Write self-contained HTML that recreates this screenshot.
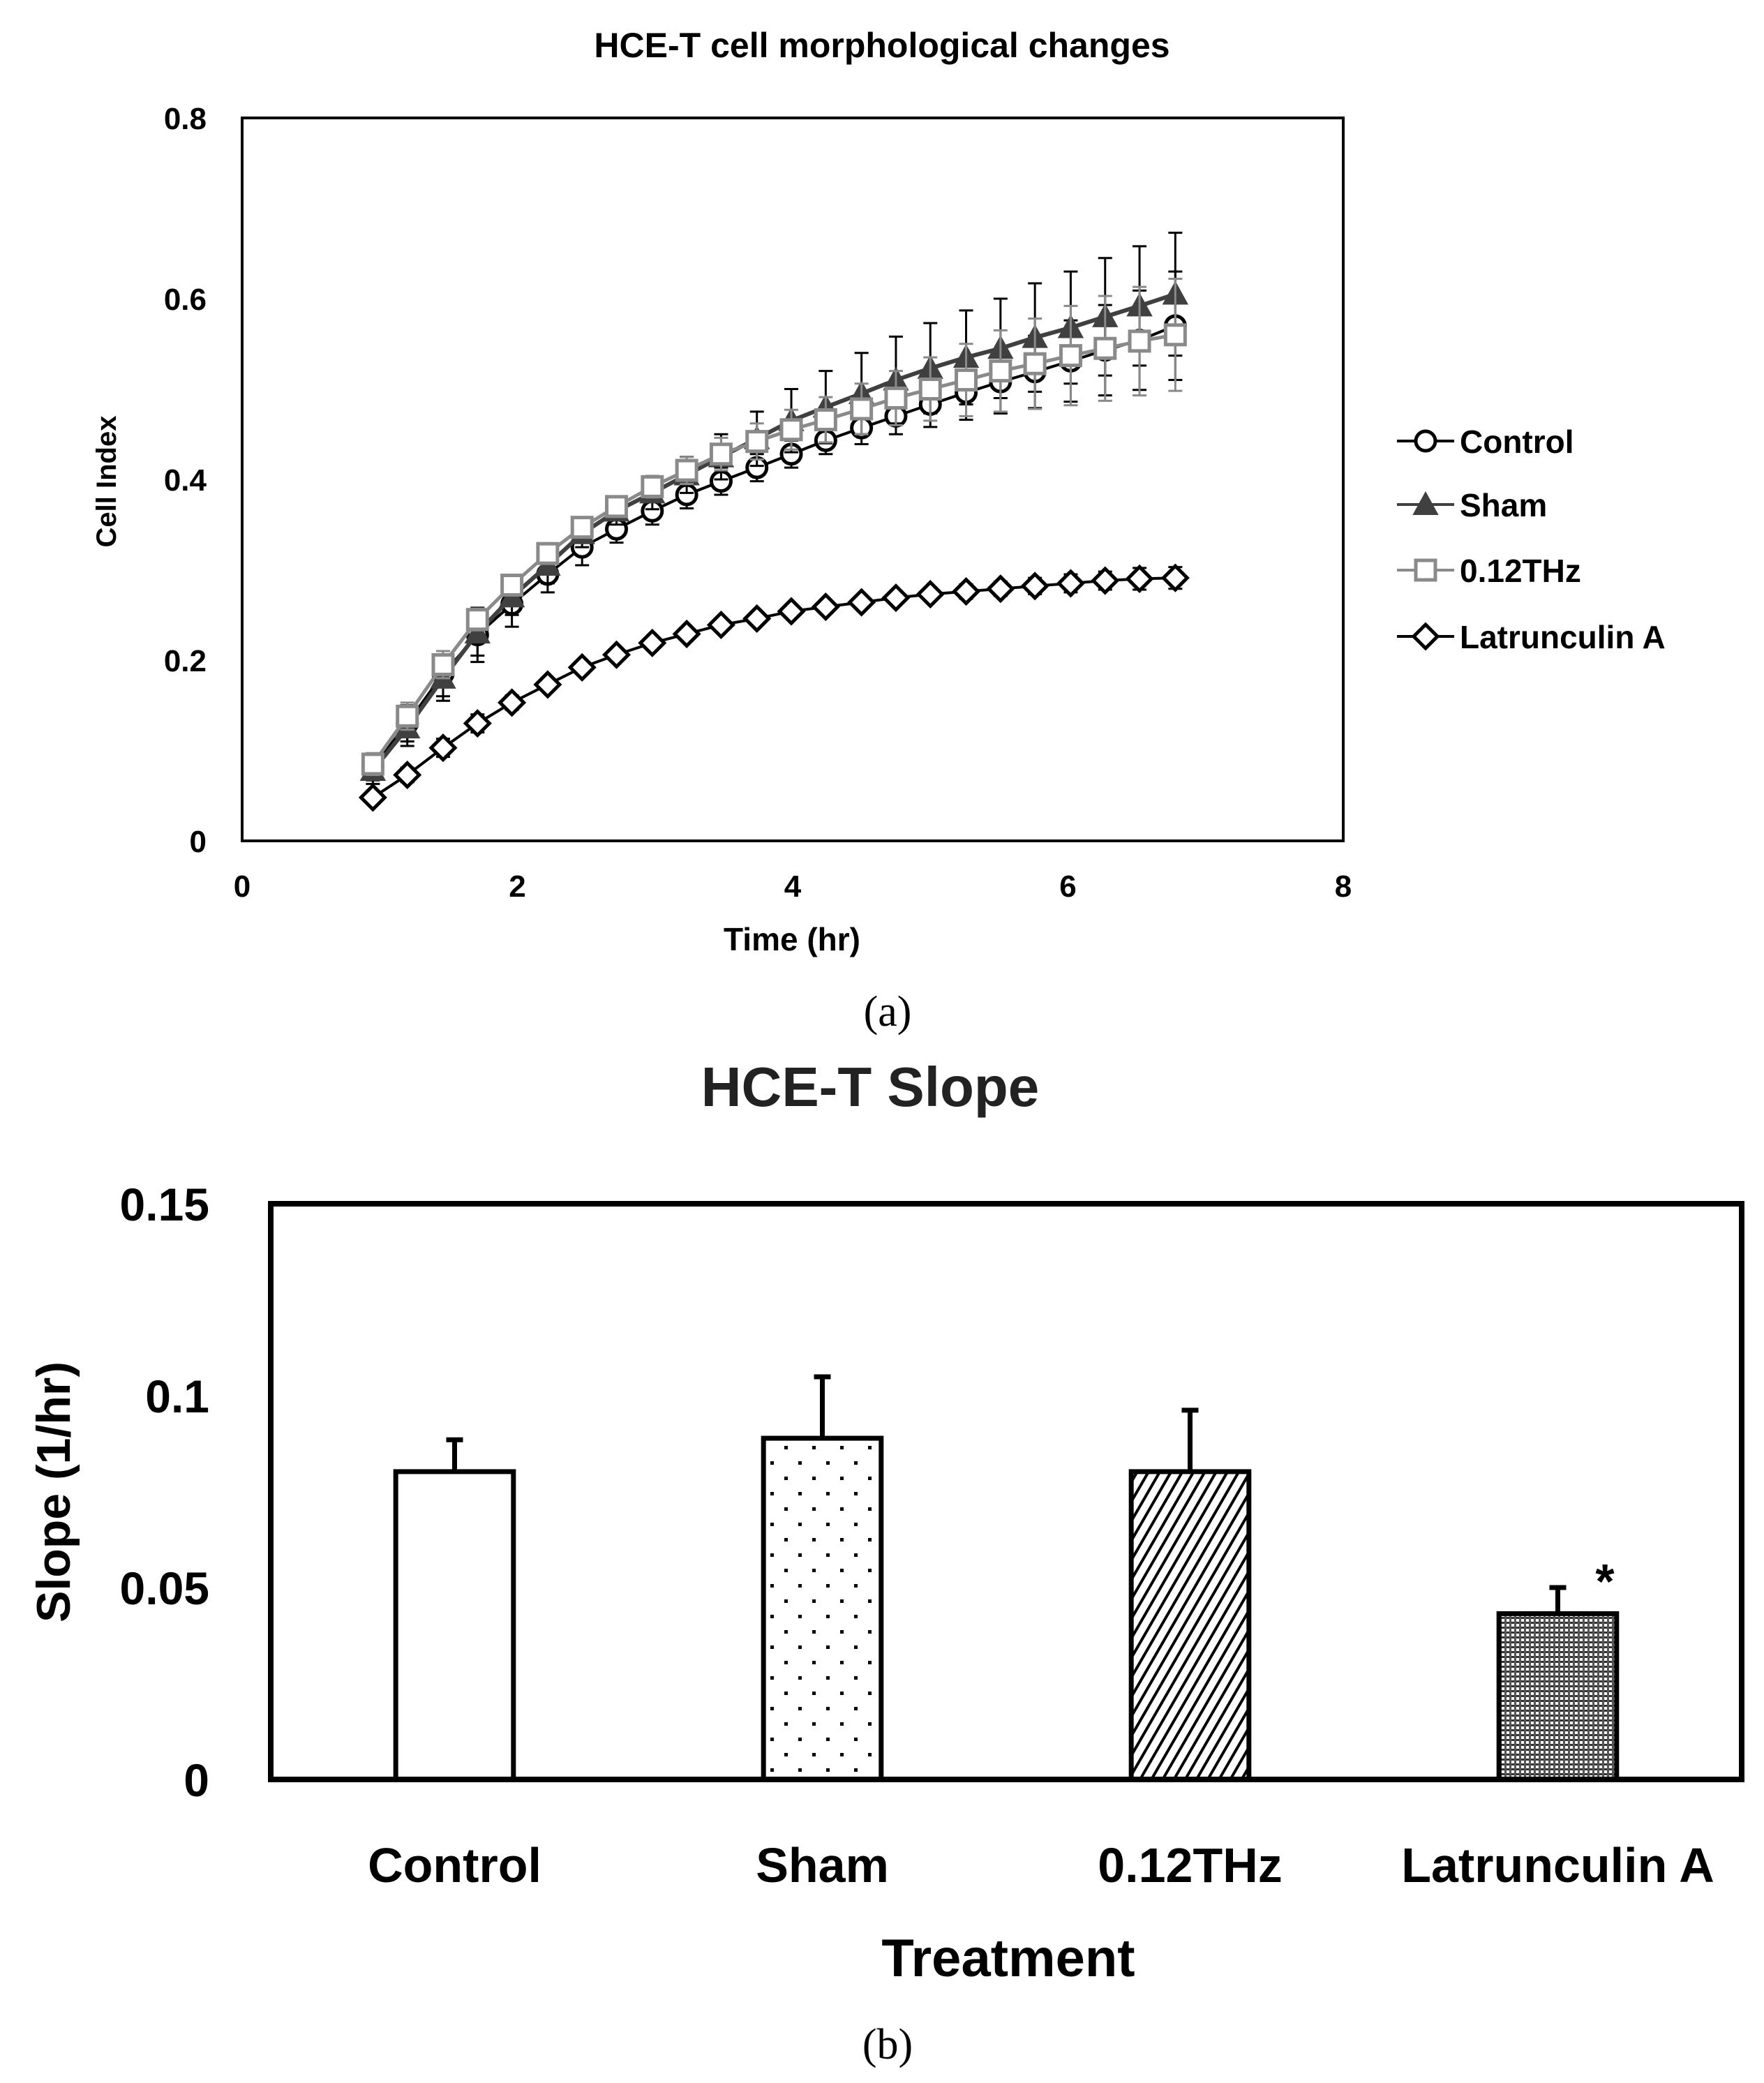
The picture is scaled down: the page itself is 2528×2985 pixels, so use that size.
<!DOCTYPE html>
<html><head><meta charset="utf-8"><style>
html,body{margin:0;padding:0;background:#fff;}
svg{display:block;font-family:"Liberation Sans",sans-serif;}
</style></head><body>
<svg id="fig" width="2528" height="2985" viewBox="0 0 2528 2985" xmlns="http://www.w3.org/2000/svg">
<defs>
<pattern id="dots" width="40" height="44" patternUnits="userSpaceOnUse"><rect x="4" y="4" width="5" height="5" fill="#000"/><rect x="24" y="26" width="5" height="5" fill="#000"/></pattern>
<pattern id="hatch" width="14" height="14" patternUnits="userSpaceOnUse" patternTransform="rotate(30)"><rect width="14" height="14" fill="#fff"/><rect x="0" y="0" width="4" height="14" fill="#000"/></pattern>
<pattern id="grid" width="7" height="7" patternUnits="userSpaceOnUse"><rect width="7" height="7" fill="#fff"/><rect width="7" height="3" fill="#333"/><rect width="3" height="7" fill="#555"/></pattern>
</defs>
<g id="chartA"></g>
<g id="chartB"></g>
</svg>
<script>
const times = [0.95,1.2,1.46,1.71,1.96,2.22,2.47,2.72,2.98,3.23,3.48,3.74,3.99,4.24,4.5,4.75,5.0,5.26,5.51,5.76,6.02,6.27,6.52,6.78];
const controlVals = [0.082,0.13,0.185,0.228,0.262,0.295,0.325,0.345,0.365,0.383,0.398,0.413,0.428,0.443,0.457,0.47,0.483,0.496,0.508,0.519,0.531,0.543,0.554,0.57];
const controlErr = [0.015,0.02,0.025,0.03,0.025,0.02,0.02,0.015,0.015,0.015,0.015,0.015,0.015,0.015,0.018,0.02,0.025,0.03,0.035,0.04,0.045,0.05,0.055,0.06];
const shamVals = [0.078,0.125,0.18,0.23,0.27,0.305,0.34,0.365,0.385,0.405,0.425,0.445,0.465,0.48,0.495,0.51,0.523,0.535,0.545,0.557,0.568,0.58,0.592,0.605];
const shamErr = [0.015,0.02,0.025,0.025,0.02,0.02,0.015,0.015,0.018,0.02,0.025,0.03,0.035,0.04,0.045,0.048,0.05,0.052,0.055,0.06,0.062,0.065,0.066,0.068];
const thzVals = [0.085,0.138,0.195,0.245,0.283,0.318,0.347,0.37,0.392,0.41,0.428,0.442,0.455,0.466,0.478,0.49,0.5,0.51,0.52,0.528,0.537,0.545,0.553,0.56];
const thzErr = [0.012,0.015,0.015,0.012,0.01,0.01,0.01,0.01,0.012,0.015,0.018,0.02,0.022,0.025,0.028,0.03,0.035,0.04,0.045,0.05,0.055,0.058,0.06,0.062];
const latVals = [0.048,0.073,0.103,0.13,0.153,0.173,0.192,0.206,0.219,0.229,0.239,0.246,0.254,0.259,0.264,0.269,0.273,0.276,0.279,0.282,0.285,0.288,0.29,0.291];
const latErr = [0.005,0.008,0.01,0.01,0.008,0.006,0.006,0.006,0.006,0.006,0.006,0.006,0.006,0.006,0.006,0.006,0.007,0.008,0.008,0.009,0.01,0.01,0.012,0.012];
const yTicksA = [0,0.2,0.4,0.6,0.8];
const xTicksA = [0,2,4,6,8];

const categories = ["Control","Sham","0.12THz","Latrunculin A"];
const slopeVals = [0.0802,0.0889,0.0802,0.0432];
const slopeErr = [0.0083,0.016,0.016,0.0068];
const yTicksB = [0,0.05,0.1,0.15];
const yTickLabelsB = ["0","0.05","0.1","0.15"];

const NS="http://www.w3.org/2000/svg";
function mk(parent,tag,attrs,text){const e=document.createElementNS(NS,tag);for(const k in attrs)e.setAttribute(k,attrs[k]);if(text!==undefined)e.textContent=text;parent.appendChild(e);return e;}

// ---- Chart A ----
const A=document.getElementById('chartA');
const ax0=347, ax1=1925, ay0=1205, ay1=169;
const xA=v=>ax0+(v-0)/8*(ax1-ax0);
const yA=v=>ay0-(v/0.8)*(ay0-ay1);
let t;
t=mk(A,'text',{x:1264,y:82,'text-anchor':'middle','font-size':50,'font-weight':'bold'},'HCE-T cell morphological changes');


let r=mk(A,'rect',{x:ax0,y:ay1,width:ax1-ax0,height:ay0-ay1,fill:'none',stroke:'#000','stroke-width':4});


yTicksA.forEach(v=>{const e=mk(A,'text',{x:296,y:yA(v)+16,'text-anchor':'end','font-size':44,'font-weight':'bold'},v===0?'0':v.toFixed(1));

});
xTicksA.forEach(v=>{const e=mk(A,'text',{x:xA(v),y:1285,'text-anchor':'middle','font-size':44,'font-weight':'bold'},String(v));

});
t=mk(A,'text',{x:1135,y:1362,'text-anchor':'middle','font-size':46,'font-weight':'bold'},'Time (hr)');


t=mk(A,'text',{x:0,y:0,'text-anchor':'middle','font-size':40,'font-weight':'bold',transform:'translate(166,690) rotate(-90)'},'Cell Index');


t=mk(A,'text',{x:1272,y:1470,'text-anchor':'middle','font-size':62,'font-family':'Liberation Serif, serif'},'(a)');



function marker(g,type,cx,cy,color){
  if(type==='circle') return mk(g,'circle',{cx:cx,cy:cy,r:14,fill:'#fff',stroke:color,'stroke-width':5});
  if(type==='tri') return mk(g,'polygon',{points:`${cx},${cy-17} ${cx+17},${cy+14} ${cx-17},${cy+14}`,fill:color,stroke:color,'stroke-width':2});
  if(type==='square') return mk(g,'rect',{x:cx-14,y:cy-14,width:28,height:28,fill:'#fff',stroke:color,'stroke-width':5});
  return mk(g,'polygon',{points:`${cx},${cy-17} ${cx+17},${cy} ${cx},${cy+17} ${cx-17},${cy}`,fill:'#fff',stroke:color,'stroke-width':5});
}
const seriesA=[
 {name:'Control',vals:controlVals,err:controlErr,type:'circle',color:'#000',lw:4},
 {name:'Sham',vals:shamVals,err:shamErr,type:'tri',color:'#404040',lw:6},
 {name:'0.12THz',vals:thzVals,err:thzErr,type:'square',color:'#8a8a8a',lw:5},
 {name:'Latrunculin A',vals:latVals,err:latErr,type:'diamond',color:'#000',lw:4}
];
seriesA.forEach((s,si)=>{
  const g=mk(A,'g',{});
  
  
  s.vals.forEach((v,i)=>{
    const x=xA(times[i]);
    const e=mk(g,'path',{d:`M${x},${yA(v-s.err[i])}V${yA(v+s.err[i])}M${x-10},${yA(v-s.err[i])}h20M${x-10},${yA(v+s.err[i])}h20`,stroke:s.color==='#8a8a8a'?'#8a8a8a':'#000','stroke-width':3,fill:'none'});
    
    
  });
  const pts=s.vals.map((v,i)=>xA(times[i])+','+yA(v)).join(' ');
  const l=mk(g,'polyline',{points:pts,fill:'none',stroke:s.color,'stroke-width':s.lw});
  
  
  s.vals.forEach((v,i)=>{const m=marker(g,s.type,xA(times[i]),yA(v),s.color);
  
  });
  // legend
  const ly=[632,723,817,912][si];
  const lg=mk(A,'g',{});
  
  
  mk(lg,'line',{x1:2002,x2:2084,y1:ly,y2:ly,stroke:s.color,'stroke-width':4});
  marker(lg,s.type,2043,ly,s.color);
  mk(lg,'text',{x:2092,y:ly+17,'font-size':46,'font-weight':'bold'},s.name);
});

// ---- Chart B ----
const B=document.getElementById('chartB');
const bx0=388,bx1=2496,by0=2550,by1=1725;
const yB=v=>by0-(v/0.15)*(by0-by1);
const band=(bx1-bx0)/categories.length;
const xB=i=>bx0+band*(i+0.5);
t=mk(B,'text',{x:1247,y:1585,'text-anchor':'middle','font-size':80,'font-weight':'bold','fill':'#222'},'HCE-T Slope');


yTicksB.forEach((v,i)=>{const e=mk(B,'text',{x:300,y:yB(v)+24,'text-anchor':'end','font-size':66,'font-weight':'bold'},yTickLabelsB[i]);

});
const fills=['#fff','url(#dots)','url(#hatch)','url(#grid)'];
slopeVals.forEach((v,i)=>{
  const w=band*0.32, x=xB(i)-w/2;
  const g=mk(B,'g',{});
  
  
  mk(g,'path',{d:`M${xB(i)},${yB(v)}V${yB(v+slopeErr[i])}M${xB(i)-12},${yB(v+slopeErr[i])}h24`,stroke:'#000','stroke-width':7,fill:'none'});
  mk(g,'rect',{x:x,y:yB(v),width:w,height:by0-yB(v),fill:fills[i],stroke:'#000','stroke-width':7});
  const c=mk(B,'text',{x:xB(i),y:2697,'text-anchor':'middle','font-size':70,'font-weight':'bold'},categories[i]);
  
  
});
r=mk(B,'rect',{x:bx0,y:by1,width:bx1-bx0,height:by0-by1,fill:'none',stroke:'#000','stroke-width':8});


t=mk(B,'text',{x:2300,y:2290,'text-anchor':'middle','font-size':70,'font-weight':'bold'},'*');


t=mk(B,'text',{x:1445,y:2832,'text-anchor':'middle','font-size':76,'font-weight':'bold'},'Treatment');


t=mk(B,'text',{x:0,y:0,'text-anchor':'middle','font-size':68,'font-weight':'bold',transform:'translate(100,2138) rotate(-90)'},'Slope (1/hr)');


t=mk(B,'text',{x:1272,y:2950,'text-anchor':'middle','font-size':62,'font-family':'Liberation Serif, serif'},'(b)');


</script>
</body></html>
